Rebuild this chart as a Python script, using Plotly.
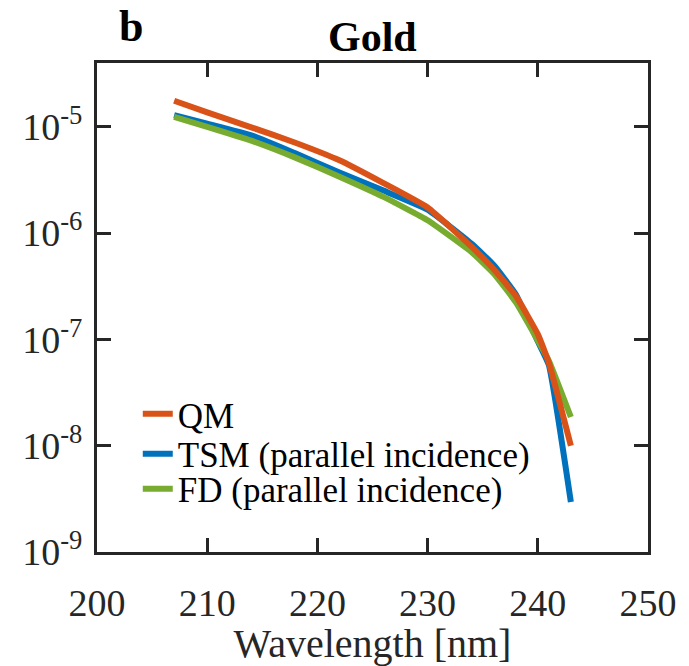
import plotly.graph_objects as go

# Wavelength [nm]
wl = [207, 210, 214, 218, 222, 226, 230, 234, 236, 238, 240, 241, 243]

qm = [1.758e-5, 1.365e-5, 9.89e-6, 7.08e-6, 4.84e-6, 2.95e-6, 1.74e-6,
      7.41e-7, 4.57e-7, 2.57e-7, 1.12e-7, 6.03e-8, 1.00e-8]
tsm = [1.288e-5, 1.072e-5, 8.32e-6, 5.62e-6, 3.72e-6, 2.51e-6, 1.66e-6,
       7.94e-7, 5.01e-7, 2.66e-7, 9.60e-8, 5.75e-8, 2.95e-9]
fd = [1.242e-5, 1.00e-5, 7.41e-6, 5.13e-6, 3.39e-6, 2.19e-6, 1.32e-6,
      6.61e-7, 4.17e-7, 2.24e-7, 9.77e-8, 6.31e-8, 1.86e-8]

x_ticks = [200, 210, 220, 230, 240, 250]
y_ticks = [1e-9, 1e-8, 1e-7, 1e-6, 1e-5]
y_ticktext = ["10<sup>-9</sup>", "10<sup>-8</sup>", "10<sup>-7</sup>",
              "10<sup>-6</sup>", "10<sup>-5</sup>"]

FONT = "Liberation Serif"
AX = "#262626"

fig = go.Figure()
fig.add_trace(go.Scatter(x=wl, y=tsm, mode="lines", name="TSM (parallel incidence)",
                         line=dict(color="#0072BD", width=6, shape="spline", smoothing=0.4),
                         legend="legend2"))
fig.add_trace(go.Scatter(x=wl, y=fd, mode="lines", name="FD (parallel incidence)",
                         line=dict(color="#77AC30", width=6, shape="spline", smoothing=0.4),
                         legend="legend3"))
fig.add_trace(go.Scatter(x=wl, y=qm, mode="lines", name="QM",
                         line=dict(color="#D95319", width=6, shape="spline", smoothing=0.4),
                         legend="legend"))

axis_common = dict(showline=True, linecolor=AX, linewidth=3, mirror="ticks",
                   ticks="inside", ticklen=14, tickwidth=3, tickcolor=AX,
                   showgrid=False, zeroline=False,
                   tickfont=dict(family=FONT, size=38, color=AX))

leg_common = dict(x=0.074, xanchor="left", yanchor="middle",
                  bgcolor="rgba(0,0,0,0)", borderwidth=0,
                  font=dict(family=FONT, size=35, color="black"),
                  itemwidth=30)

fig.update_layout(
    width=689, height=666,
    margin=dict(l=97, r=34, t=63, b=114),
    paper_bgcolor="white", plot_bgcolor="white",
    font=dict(family=FONT, color=AX),
    xaxis=dict(range=[200, 250], tickvals=x_ticks,
               title=dict(text="Wavelength [nm]", font=dict(family=FONT, size=40, color=AX),
                          standoff=0),
               ticklabelstandoff=15, **axis_common),
    yaxis=dict(type="log", range=[-9, -4.4], tickvals=y_ticks, ticktext=y_ticktext,
               ticklabelstandoff=4, **axis_common),
    showlegend=True,
    legend=dict(y=0.282, **leg_common),
    legend2=dict(y=0.2005, **leg_common),
    legend3=dict(y=0.129, **leg_common),
)

fig.add_annotation(text="<b>Gold</b>", xref="paper", yref="paper", x=0.5, y=1.0,
                   xanchor="center", yanchor="bottom", yshift=1, showarrow=False,
                   font=dict(family=FONT, size=42, color="black"))
fig.add_annotation(text="<b>b</b>", xref="paper", x=0.062, yref="paper", y=1.0,
                   xanchor="center", yanchor="bottom", yshift=10, showarrow=False,
                   font=dict(family=FONT, size=44, color="black"))

fig.write_html("out.html")
